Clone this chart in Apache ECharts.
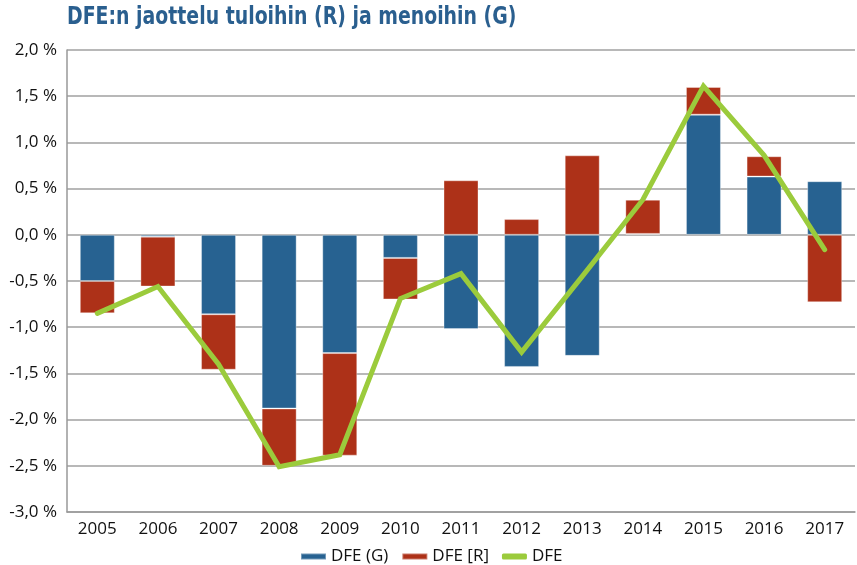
<!DOCTYPE html>
<html>
<head>
    <meta charset="utf-8">
    <title>DFE:n jaottelu</title>
    <script src="https://cdn.jsdelivr.net/npm/echarts@6/dist/echarts.min.js"></script>
    <style type="text/css">
        html, body { margin: 0; padding: 0; background: #fff; }
        #main { width: 857px; height: 565px; }
    </style>
</head>
<body>
    <div id="main"></div>
    <script>
        // vuodet
        var years = ['2005','2006','2007','2008','2009','2010','2011','2012','2013','2014','2015','2016','2017'];
        // menot (G)
        var dfeG = [-0.50, -0.02, -0.86, -1.88, -1.28, -0.25, -1.02, -1.43, -1.31, 0.01, 1.30, 0.63, 0.58];
        // tulot (R)
        var dfeR = [-0.35, -0.54, -0.60, -0.62, -1.11, -0.45, 0.59, 0.17, 0.86, 0.37, 0.30, 0.22, -0.73];
        // DFE yhteensä
        var dfe = [-0.85, -0.56, -1.40, -2.51, -2.38, -0.69, -0.42, -1.27, -0.45, 0.38, 1.61, 0.86, -0.16];

        var font = '"Open Sans", "Noto Sans", sans-serif';

        var myChart = echarts.init(document.getElementById('main'));
        var option = {
            animation: false,
            // otsikko kapeana tekstinä
            graphic: [{
                type: 'text',
                x: 67,
                y: 5,
                scaleX: 0.84,
                style: {
                    text: 'DFE:n jaottelu tuloihin (R) ja menoihin (G)',
                    fill: '#2a5f8f',
                    font: 'bold 25px "DejaVu Sans Condensed", "DejaVu Sans", sans-serif'
                }
            }],
            legend: {
                left: 295,
                top: 543,
                itemWidth: 25,
                itemHeight: 6,
                itemGap: 13,
                textStyle: { fontFamily: font, fontSize: 17, color: '#111' },
                data: [
                    { name: 'DFE (G)', icon: 'rect' },
                    { name: 'DFE [R]', icon: 'rect' },
                    { name: 'DFE', icon: 'roundRect' }
                ]
            },
            grid: {
                left: 67,
                right: 2,
                top: 50,
                bottom: 53
            },
            xAxis: {
                type: 'category',
                data: years,
                axisLine: { onZero: false, lineStyle: { color: '#999', width: 1.5 } },
                axisTick: { show: false },
                axisLabel: { fontFamily: font, fontSize: 17, color: '#111', margin: 9 }
            },
            yAxis: {
                type: 'value',
                min: -3,
                max: 2,
                interval: 0.5,
                axisLine: { show: true, lineStyle: { color: '#999', width: 1.5 } },
                axisTick: { show: false },
                splitLine: { lineStyle: { color: '#a0a0a0', width: 1.5 } },
                axisLabel: {
                    fontFamily: font,
                    fontSize: 17,
                    color: '#111',
                    margin: 10,
                    formatter: function (v) {
                        return v.toFixed(1).replace('.', ',') + ' %';
                    }
                }
            },
            series: [
                {
                    name: 'DFE (G)',
                    type: 'bar',
                    stack: 'dfe',
                    barWidth: 35,
                    data: dfeG,
                    itemStyle: { color: '#276291', borderColor: 'rgba(255,255,255,0.35)', borderWidth: 1 }
                },
                {
                    name: 'DFE [R]',
                    type: 'bar',
                    stack: 'dfe',
                    barWidth: 35,
                    data: dfeR,
                    itemStyle: { color: '#ad3118', borderColor: 'rgba(255,255,255,0.35)', borderWidth: 1 }
                },
                {
                    name: 'DFE',
                    type: 'line',
                    data: dfe,
                    symbol: 'none',
                    itemStyle: { color: '#9bcb3c' },
                    lineStyle: { color: '#9bcb3c', width: 5, cap: 'round', join: 'miter' }
                }
            ]
        };
        myChart.setOption(option);
    </script>
</body>
</html>
